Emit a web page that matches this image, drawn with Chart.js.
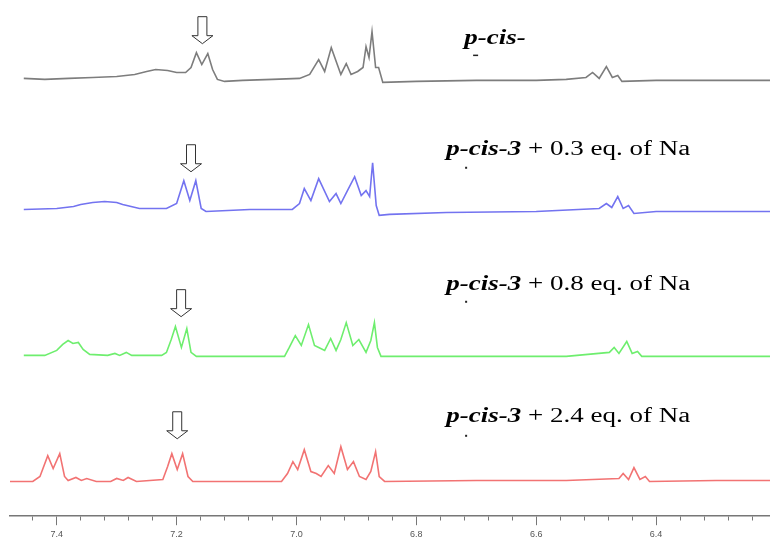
<!DOCTYPE html>
<html>
<head>
<meta charset="utf-8">
<script src="https://cdn.jsdelivr.net/npm/chart.js@4.4.0/dist/chart.umd.min.js"></script>
<style>
  html, body { margin: 0; padding: 0; background: #ffffff; }
  #wrap { width: 770px; height: 544px; }
</style>
</head>
<body>
<div id="wrap"><canvas id="c" width="770" height="544"></canvas></div>
<script>
// ---- Data (chemical shift in ppm, relative intensity) ----
const grayTrace = [
  [7.455,1],[7.42,0],[7.38,1],[7.34,2],[7.30,3],[7.27,5],[7.25,8],[7.235,10],[7.215,9],[7.20,7],
  [7.185,7],[7.176,12],[7.167,27],[7.158,15],[7.148,26],[7.14,10],[7.132,0],[7.12,-2],[7.09,-1],[7.04,0],
  [6.995,1],[6.978,5],[6.963,20],[6.953,8],[6.942,32],[6.926,5],[6.917,16],[6.909,5],[6.898,8],[6.889,12],
  [6.884,33],[6.879,22],[6.874,48],[6.868,12],[6.863,12],[6.856,-3],[6.80,-2],[6.70,-1],[6.60,-1],[6.55,0],
  [6.517,2],[6.506,7],[6.495,1],[6.483,13],[6.473,2],[6.464,4],[6.457,-2],[6.40,-1],[6.30,-1],[6.21,-1]
];
const blueTrace = [
  [7.455,1],[7.40,2],[7.372,4],[7.36,6],[7.34,8],[7.32,9],[7.30,8],[7.29,6],[7.283,5],[7.262,2],[7.217,2],[7.20,7],
  [7.188,30],[7.178,10],[7.168,30],[7.159,2],[7.151,-1],[7.078,1],[7.007,1],[6.995,7],[6.987,22],[6.976,10],
  [6.963,32],[6.945,9],[6.934,17],[6.926,7],[6.915,20],[6.903,34],[6.892,15],[6.884,20],[6.878,14],[6.873,48],
  [6.867,5],[6.862,-5],[6.845,-4],[6.75,-2],[6.60,-1],[6.495,2],[6.483,7],[6.474,3],[6.464,14],[6.455,2],
  [6.446,5],[6.437,-3],[6.40,-1],[6.30,-1],[6.21,-1]
];
const greenTrace = [
  [7.455,0],[7.42,0],[7.40,5],[7.39,11],[7.381,15],[7.373,12],[7.364,13],[7.356,6],[7.345,1],[7.315,0],
  [7.303,2],[7.295,0],[7.284,3],[7.275,0],[7.225,0],[7.217,3],[7.209,16],[7.202,29],[7.192,8],[7.183,27],
  [7.176,3],[7.167,-1],[7.10,-1],[7.02,-1],[7.012,8],[7.002,20],[6.992,10],[6.98,31],[6.97,10],[6.963,8],
  [6.953,5],[6.943,17],[6.934,5],[6.926,16],[6.917,33],[6.906,10],[6.896,16],[6.884,3],[6.876,15],[6.87,33],
  [6.865,8],[6.859,-1],[6.70,-1],[6.55,-1],[6.478,3],[6.47,8],[6.462,2],[6.449,14],[6.44,2],[6.431,4],
  [6.424,-1],[6.30,-1],[6.21,-1]
];
const redTrace = [
  [7.478,0],[7.44,0],[7.428,5],[7.415,26],[7.406,13],[7.395,28],[7.387,5],[7.381,1],[7.368,4],[7.359,1],
  [7.35,3],[7.334,0],[7.31,0],[7.30,3],[7.289,1],[7.281,4],[7.267,0],[7.223,2],[7.215,15],[7.208,28],
  [7.199,12],[7.19,28],[7.181,5],[7.173,0],[7.10,0],[7.025,0],[7.015,8],[7.006,20],[6.998,12],[6.987,32],
  [6.976,10],[6.967,8],[6.959,5],[6.947,16],[6.937,8],[6.926,35],[6.915,12],[6.905,20],[6.895,5],[6.884,2],
  [6.876,10],[6.868,30],[6.862,5],[6.853,0],[6.70,1],[6.55,1],[6.462,3],[6.455,8],[6.446,2],[6.437,14],
  [6.427,2],[6.418,5],[6.411,0],[6.30,1],[6.21,1]
];
const traceBold = ['p-cis-', 'p-cis-3', 'p-cis-3', 'p-cis-3'];
const traceRest = ['', ' + 0.3 eq. of Na', ' + 0.8 eq. of Na', ' + 2.4 eq. of Na'];
const arrowShift = [7.157, 7.176, 7.1925, 7.199];      // ppm of the marked doublet
const tickValues = [7.44,7.40,7.36,7.32,7.28,7.24,7.20,7.16,7.12,7.08,7.04,7.00,6.96,6.92,6.88,6.84,
  6.80,6.76,6.72,6.68,6.64,6.60,6.56,6.52,6.48,6.44,6.40,6.36,6.32,6.28,6.24];
const tickLabels = ['7.4','7.2','7.0','6.8','6.6','6.4'];

// ---- styles / layout ----
const colors = ['rgb(125,125,125)', 'rgb(115,115,240)', 'rgb(110,238,110)', 'rgb(242,115,115)'];
const axisIds = ['y0', 'y1', 'y2', 'y3'];
const axisRange = [[-50, 80], [-48, 82], [-32, 98], [-35, 95]];
const annot = [
  { labelX: 6.72, labelY: 36, arrowTip: 36, mark: [6.702, 25] },
  { labelX: 6.75, labelY: 56, arrowTip: 39, mark: [6.717, 43] },
  { labelX: 6.75, labelY: 66, arrowTip: 39, mark: [6.717, 54] },
  { labelX: 6.75, labelY: 60, arrowTip: 43, mark: [6.717, 46] }
];

const isMajor = v => Math.abs(v * 5 - Math.round(v * 5)) < 1e-6;
const labelFor = v => {
  const s = v.toFixed(1);
  return tickLabels.includes(s) && isMajor(v) ? s : '';
};

const traces = [grayTrace, blueTrace, greenTrace, redTrace];
const datasets = traces.map((t, i) => ({
  data: t.map(p => ({ x: p[0], y: p[1] })),
  yAxisID: axisIds[i],
  borderColor: colors[i],
  borderWidth: 1.6,
  pointRadius: 0,
  fill: false,
  tension: 0
}));

const scales = {
  x: {
    type: 'linear', position: 'bottom', reverse: true, min: 6.21, max: 7.478,
    afterBuildTicks: s => { s.ticks = tickValues.map(v => ({ value: v })); },
    ticks: {
      autoSkip: false, maxRotation: 0, padding: 4, color: '#555',
      font: { size: 9, family: 'Liberation Sans' },
      callback: v => labelFor(v)
    },
    grid: {
      drawOnChartArea: false, tickLength: 9, tickColor: '#777', tickWidth: 1,
      tickBorderDash: ctx => (ctx.tick && isMajor(ctx.tick.value)) ? [] : [4, 40]
    },
    border: { color: '#777', width: 1.5 }
  }
};
// stacked axes are placed bottom-up in declaration order, so declare the last trace first
axisIds.slice().reverse().forEach(id => {
  const i = axisIds.indexOf(id);
  scales[id] = {
    type: 'linear', position: 'left', stack: 'nmr', stackWeight: 1,
    min: axisRange[i][0], max: axisRange[i][1],
    ticks: { display: false },
    grid: { display: false, drawTicks: false },
    border: { display: false }
  };
});

const annotPlugin = {
  id: 'annot',
  afterDatasetsDraw(chart) {
    const ctx = chart.ctx;
    const xs = chart.scales.x;
    annot.forEach((a, i) => {
      const ys = chart.scales[axisIds[i]];
      // arrow
      const ax = xs.getPixelForValue(arrowShift[i]);
      const ay = ys.getPixelForValue(a.arrowTip);
      const sw = 4.5, hw = 10.5, hh = 8, sh = 19;
      ctx.save();
      ctx.beginPath();
      ctx.moveTo(ax - sw, ay - hh - sh);
      ctx.lineTo(ax + sw, ay - hh - sh);
      ctx.lineTo(ax + sw, ay - hh);
      ctx.lineTo(ax + hw, ay - hh);
      ctx.lineTo(ax, ay);
      ctx.lineTo(ax - hw, ay - hh);
      ctx.lineTo(ax - sw, ay - hh);
      ctx.closePath();
      ctx.fillStyle = '#fff';
      ctx.fill();
      ctx.strokeStyle = '#333';
      ctx.lineWidth = 1;
      ctx.stroke();
      ctx.restore();
      // label
      const lx = xs.getPixelForValue(a.labelX);
      const ly = ys.getPixelForValue(a.labelY);
      ctx.save();
      ctx.translate(lx, ly);
      ctx.scale(1.35, 1);
      ctx.fillStyle = '#000';
      ctx.textBaseline = 'alphabetic';
      ctx.font = 'italic bold 20px "Liberation Serif"';
      ctx.fillText(traceBold[i], 0, 0);
      const w = ctx.measureText(traceBold[i]).width;
      ctx.font = '20px "Liberation Serif"';
      ctx.fillText(traceRest[i], w, 0);
      ctx.restore();
      // small cropped glyph remnant under the label
      const mx = xs.getPixelForValue(a.mark[0]);
      const my = ys.getPixelForValue(a.mark[1]);
      ctx.save();
      ctx.fillStyle = '#222';
      if (i === 0) {
        ctx.fillRect(mx - 2, my, 5, 1.5);
      } else {
        ctx.fillRect(mx - 1, my - 1, 2, 2);
      }
      ctx.restore();
    });
  }
};

new Chart(document.getElementById('c'), {
  type: 'line',
  data: { datasets },
  options: {
    responsive: false,
    animation: false,
    devicePixelRatio: 1,
    layout: { padding: { left: 10, right: 0, top: 0, bottom: 0 } },
    plugins: { legend: { display: false }, tooltip: { enabled: false } },
    scales
  },
  plugins: [annotPlugin]
});
</script>
</body>
</html>
